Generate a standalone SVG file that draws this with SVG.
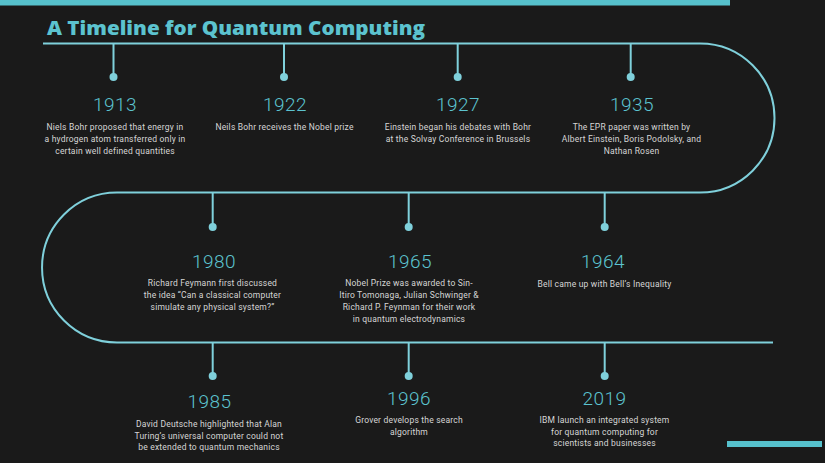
<svg xmlns="http://www.w3.org/2000/svg" width="825" height="463" viewBox="0 0 825 463">
<style>
.bg{fill:#1a1a1a}
.bar{fill:#56c1cc}
.ln{fill:none;stroke:#7fd0db;stroke-width:2}
.dot{fill:#7fd0db}
.title{font-family:"Open Sans","Liberation Sans",sans-serif;font-weight:800;font-size:19.5px;fill:#5cc3cf}
.yr{font-family:Roboto,"Liberation Sans",sans-serif;font-weight:300;font-size:19px;fill:#5cc3cf;text-anchor:middle;letter-spacing:0.4px}
.d{font-family:Roboto,"Liberation Sans",sans-serif;font-size:8.5px;fill:#d6d6d6;text-anchor:middle;letter-spacing:0.2px}
</style>
<rect class="bg" x="0" y="0" width="825" height="463"/>
<rect class="bar" x="0" y="0" width="730" height="5.5"/>
<rect class="bar" x="727" y="441" width="95" height="6"/>
<text class="title" x="47" y="34.5" textLength="378" lengthAdjust="spacingAndGlyphs">A Timeline for Quantum Computing</text>
<g id="connectors">
<path class="ln" d="M43 43.5 H700 A74.5 74.5 0 0 1 700 192.5 H117 A75 75 0 0 0 117 342.5 H773"/>
<path class="ln" d="M113.5 43.5V77 M284 43.5V77 M457.7 43.5V77 M630.7 43.5V77"/>
<path class="ln" d="M212.7 192.5V227 M408.7 192.5V227 M604.7 192.5V227"/>
<path class="ln" d="M212.7 342.5V376 M408.7 342.5V376 M604.7 342.5V376"/>
</g>
<g id="n1913"><circle class="dot" cx="113.5" cy="77" r="4"/><text class="yr" x="115" y="111">1913</text>
<text class="d" x="115" y="129.5">Niels Bohr proposed that energy in</text>
<text class="d" x="115" y="141.5">a hydrogen atom transferred only in</text>
<text class="d" x="115" y="153.5">certain well defined quantities</text></g>
<g id="n1922"><circle class="dot" cx="284" cy="77" r="4"/><text class="yr" x="285" y="111">1922</text>
<text class="d" x="284.5" y="129.5">Neils Bohr receives the Nobel prize</text></g>
<g id="n1927"><circle class="dot" cx="457.7" cy="77" r="4"/><text class="yr" x="458" y="111">1927</text>
<text class="d" x="458" y="129.5">Einstein began his debates with Bohr</text>
<text class="d" x="458" y="141.5">at the Solvay Conference in Brussels</text></g>
<g id="n1935"><circle class="dot" cx="630.7" cy="77" r="4"/><text class="yr" x="632" y="111">1935</text>
<text class="d" x="631.5" y="129.5">The EPR paper was written by</text>
<text class="d" x="631.5" y="141.5">Albert Einstein, Boris Podolsky, and</text>
<text class="d" x="631.5" y="153.5">Nathan Rosen</text></g>
<g id="n1980"><circle class="dot" cx="212.7" cy="227" r="4"/><text class="yr" x="214" y="268">1980</text>
<text class="d" x="212.5" y="286">Richard Feymann first discussed</text>
<text class="d" x="212.5" y="298">the idea “Can a classical computer</text>
<text class="d" x="212.5" y="309.5">simulate any physical system?”</text></g>
<g id="n1965"><circle class="dot" cx="408.7" cy="227" r="4"/><text class="yr" x="410" y="268">1965</text>
<text class="d" x="409" y="286">Nobel Prize was awarded to Sin-</text>
<text class="d" x="409" y="298">Itiro Tomonaga, Julian Schwinger &amp;</text>
<text class="d" x="409" y="309.5">Richard P. Feynman for their work</text>
<text class="d" x="409" y="321.5">in quantum electrodynamics</text></g>
<g id="n1964"><circle class="dot" cx="604.7" cy="227" r="4"/><text class="yr" x="603" y="268">1964</text>
<text class="d" x="604.5" y="287">Bell came up with Bell’s Inequality</text></g>
<g id="n1985"><circle class="dot" cx="212.7" cy="376" r="4"/><text class="yr" x="209.5" y="408">1985</text>
<text class="d" x="209" y="427">David Deutsche  highlighted that Alan</text>
<text class="d" x="209" y="438.5">Turing’s universal computer could not</text>
<text class="d" x="209" y="450">be extended to quantum mechanics</text></g>
<g id="n1996"><circle class="dot" cx="408.7" cy="376" r="4"/><text class="yr" x="409" y="405">1996</text>
<text class="d" x="409" y="423">Grover develops the search</text>
<text class="d" x="409" y="434.5">algorithm</text></g>
<g id="n2019"><circle class="dot" cx="604.7" cy="376" r="4"/><text class="yr" x="604.5" y="405">2019</text>
<text class="d" x="604.5" y="423">IBM launch an integrated system</text>
<text class="d" x="604.5" y="434.5">for quantum computing for</text>
<text class="d" x="604.5" y="446">scientists and businesses</text></g>
</svg>
